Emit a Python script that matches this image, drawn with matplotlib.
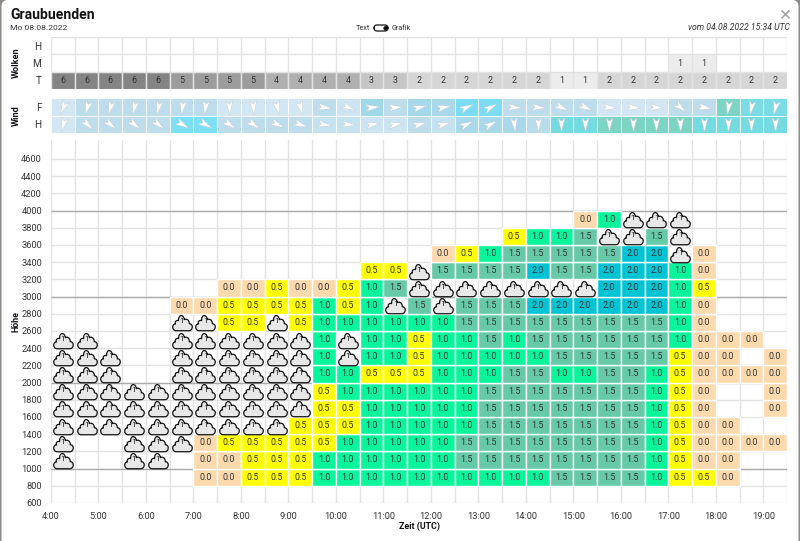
#!/usr/bin/env python3
"""Graubuenden soaring forecast panel: clouds, wind and thermals by height and time."""
import matplotlib

matplotlib.use("Agg")
import matplotlib.pyplot as plt  # noqa: E402
from matplotlib.markers import MarkerStyle  # noqa: E402
from matplotlib.patches import FancyBboxPatch  # noqa: E402
from matplotlib.path import Path  # noqa: E402
from matplotlib.transforms import Affine2D  # noqa: E402

plt.rcParams["font.family"] = ["Roboto", "DejaVu Sans"]

W, H = 800, 541
TEXT = "#333333"

# half-hour slots from 4:00 to 19:30
slots = [4 + i * 0.5 for i in range(31)]
hours = list(range(4, 20))
heights = list(range(600, 4800, 200))

cloud_mid = [0] * 26 + [1, 1, 0, 0, 0]
cloud_low = [6, 6, 6, 6, 6, 5, 5, 5, 5, 4, 4, 4, 4, 3, 3, 2, 2, 2, 2, 2, 2, 1, 1, 2, 2, 2, 2, 2, 2, 2, 2]
cloud_grey = {1: "#ececec", 2: "#d6d6d6", 3: "#c6c6c6", 4: "#b0b0b0", 5: "#9c9c9c", 6: "#848484"}

# wind: heading of the arrow in degrees and the cell colour
wind_dir_f = [205, 197, 197, 195, 195, 188, 188, 178, 175, 165, 165, 100, 115, 85, 85, 75,
              78, 65, 62, 95, 95, 115, 115, 95, 95, 95, 130, 100, 188, 190, 193]
wind_dir_h = [197, 135, 130, 130, 130, 120, 120, 125, 125, 115, 110, 100, 95, 80, 80, 75,
              75, 65, 62, 175, 178, 180, 180, 180, 180, 180, 178, 180, 180, 180, 180]
wind_col_f = ["#d3e6f4", "#bddded", "#bddded", "#bddded", "#bddded", "#bddded", "#bddded",
              "#d3e6f4", "#d3e6f4", "#d3e6f4", "#d3e6f4", "#bddded", "#cde4f2", "#a0d8ea",
              "#bddded", "#a4d8ea", "#a8d8ea", "#7cdcf4", "#7cdcf4", "#bddded", "#bddded",
              "#bddded", "#bddded", "#d3e6f4", "#d3e6f4", "#d3e6f4", "#bddded", "#bddded",
              "#7cd4c4", "#7cdce4", "#7cdce4"]
wind_col_h = ["#d3e6f4", "#bddded", "#bddded", "#bddded", "#bddded", "#7ce0f4", "#7ce0f4",
              "#bddded", "#bddded", "#bddded", "#bddded", "#c4e2f0", "#c4e2f0", "#cde4f2",
              "#cde4f2", "#bddded", "#c4e2f0", "#a8d8ea", "#a8d8ea", "#a8d8ea", "#b8dcec",
              "#74dce0", "#74dce0", "#7cd4c4", "#7cd4c4", "#7cd4c4", "#7cd4c4", "#74dce0",
              "#74dce0", "#74dce0", "#74dce0"]

# thermals per height band (lower edge in m), one char per slot:
# . empty, c cloud, 0 = 0.0, 5 = 0.5, 1 = 1.0, f = 1.5, 2 = 2.0
band_heights = [800, 1000, 1200, 1400, 1600, 1800, 2000, 2200, 2400, 2600, 2800, 3000, 3200, 3400, 3600, 3800]
bands = [
    "......00555" + "1111111111" + "ffff155" + "0..",
    "c..cc.00555" + "111111ffff" + "ffff1500..",
    "c..ccc055555" + "11111ffff" + "ffff150000",
    "cccccccccc555" + "11111fff" + "ffff1500..",
    "ccccccccccc55" + "11111fff" + "ffff150..0",
    "ccccccccccc5" + "111111fff" + "ffff150..0",
    "ccc..cccccc11555111ff" + "11ff150000",
    "ccc..cccccc1c1151111" + "1fffff500.0",
    "cc...cccccc1c1151" + "1f1ffffff1000.",
    ".....cc55c5111111ffff" + "fffff10...",
    ".....005555" + "151cfcfff2" + "2222210...",
    ".......005005" + "1fcccccccc22215...",
    ".............55c" + "ffff2ff222" + "10...",
    "................051ff" + "fff22c0...",
    "...................511fccfc....",
    "......................01ccc....",
]
band_values = {"0": 0.0, "5": 0.5, "1": 1.0, "f": 1.5, "2": 2.0}
band_colors = {0.0: "#fdd9ae", 0.5: "#ffff00", 1.0: "#08f59c", 1.5: "#66c9a8", 2.0: "#00c3d4"}

# flat-bottomed cloud glyph used as a marker
CLOUD = Path(
    [(-0.62, -0.8), (0.62, -0.8), (1.02, -0.8), (1.08, -0.12), (0.66, -0.12),
     (0.68, 0.32), (0.28, 0.38), (0.18, 0.28), (0.12, 0.82), (-0.42, 0.82), (-0.38, 0.18),
     (-0.62, 0.28), (-0.78, 0.05), (-0.68, -0.14), (-1.08, -0.15), (-1.02, -0.8), (-0.62, -0.8)],
    [Path.MOVETO, Path.LINETO, Path.CURVE4, Path.CURVE4, Path.CURVE4,
     Path.CURVE4, Path.CURVE4, Path.CURVE4, Path.CURVE4, Path.CURVE4, Path.CURVE4,
     Path.CURVE4, Path.CURVE4, Path.CURVE4, Path.CURVE4, Path.CURVE4, Path.CURVE4],
)
ARROW = Path([(0, 1), (0.48, -0.9), (0, -0.45), (-0.48, -0.9), (0, 1)], closed=True)


def px_axes(left, top, right, bottom):
    ax = fig.add_axes([left / W, 1 - bottom / H, (right - left) / W, (bottom - top) / H])
    ax.set_xlim(4, 19.5)
    ax.patch.set_alpha(0)
    for s in ax.spines.values():
        s.set_visible(False)
    ax.tick_params(length=0, labelsize=6.7, labelcolor=TEXT, which="both")
    ax.set_axisbelow(True)
    return ax


def label(x, y, s, **kw):
    kw.setdefault("color", TEXT)
    kw.setdefault("va", "center")
    fig.text(x / W, 1 - y / H, s, **kw)


fig = plt.figure(figsize=(W / 100, H / 100), dpi=100, facecolor="#8f8c88")
fig.patches.append(FancyBboxPatch((1.5 / W, -0.02), 797 / W, 1.02, boxstyle="round,pad=0,rounding_size=0.008",
                                  transform=fig.transFigure, fc="white", ec="none", mutation_aspect=W / H,
                                  zorder=-1))

label(10, 15, "Graubuenden", fontsize=10.1, fontweight="bold", color="#111111")
label(10, 28, "Mo 08.08.2022", fontsize=6.1)
label(370, 28, "Text", fontsize=5.2, ha="right")
label(392, 28, "Grafik", fontsize=5.2)
label(790, 28, "vom 04.08.2022 15:34 UTC", fontsize=6.2, ha="right", style="italic")
label(785, 16, "×", fontsize=15, ha="center", color="#a8a8a8")
fig.patches.append(FancyBboxPatch((374 / W, 1 - 31 / H), 14 / W, 6 / H, boxstyle="round,pad=0,rounding_size=0.004",
                                  transform=fig.transFigure, fc="white", ec="#111111", lw=0.9,
                                  mutation_aspect=W / H))
label(385.5, 27.7, "●", fontsize=4.5, ha="center", color="#111111")

label(16, 63, "Wolken", fontsize=6.6, fontweight="bold", rotation=90, ha="center", color="#111111")
label(16, 116, "Wind", fontsize=6.6, fontweight="bold", rotation=90, ha="center", color="#111111")
label(16, 322, "Höhe", fontsize=6.4, fontweight="bold", rotation=90, ha="center", color="#111111")
label(419, 526, "Zeit (UTC)", fontsize=6.4, fontweight="bold", ha="center", color="#111111")

# clouds panel
ax = px_axes(51, 37, 787, 89)
ax.set_ylim(0, 3)
ax.set_xticks(slots)
ax.set_xticklabels([])
ax.set_yticks([0.5, 1.5, 2.5], ["T", "M", "H"], fontsize=7.2)
ax.tick_params(axis="y", pad=7)
ax.vlines(slots + [19.5], 0, 3, color="#e2e2e2", lw=1)
ax.hlines([1, 2, 3], 4, 19.5, color="#e2e2e2", lw=1)
for row, vals in [(0, cloud_low), (1, cloud_mid)]:
    for x, v in zip(slots, vals):
        if v:
            ax.bar(x, 1, 0.5, row, align="edge", color=cloud_grey[v], edgecolor="white", linewidth=0.8)
            ax.text(x + 0.25, row + 0.5, str(v), ha="center", va="center", fontsize=6.4, color=TEXT)

# wind panel
ax = px_axes(51, 98, 787, 133)
ax.set_ylim(0, 2)
ax.set_xticks([])
ax.set_yticks([0.5, 1.5], ["H", "F"], fontsize=7.2)
ax.tick_params(axis="y", pad=7)
for row, dirs, cols in [(0, wind_dir_h, wind_col_h), (1, wind_dir_f, wind_col_f)]:
    ax.bar(slots, 1, 0.5, row, align="edge", color=cols, edgecolor="white", linewidth=0.6)
    for x, d in zip(slots, dirs):
        m = MarkerStyle(ARROW, transform=Affine2D().rotate_deg(-d))
        ax.plot(x + 0.25, row + 0.5, marker=m, ms=10.5, mfc="white", mec="#c4cace", mew=0.3, ls="none")

# thermals panel
ax = px_axes(51, 140, 787, 503)
ax.set_ylim(600, 4820)
ax.set_xticks(hours, [f"{h}:00" for h in hours])
ax.set_xticks(slots + [19.5], minor=True)
ax.set_yticks(heights)
ax.tick_params(axis="y", pad=6.5)
ax.tick_params(axis="x", pad=6.5)
ax.grid(True, which="both", color="#e2e2e2", lw=1)
ax.hlines([1000, 2000, 3000, 4000], 4, 19.5, color="#ababab", lw=1, zorder=1)
cloud_x, cloud_y = [], []
for base, band in zip(band_heights, bands):
    for x, ch in zip(slots, band):
        if ch == "c":
            cloud_x.append(x + 0.25)
            cloud_y.append(base + 100)
        elif ch != ".":
            v = band_values[ch]
            ax.bar(x, 200, 0.5, base, align="edge", color=band_colors[v], edgecolor="white", linewidth=1, zorder=2)
            ax.text(x + 0.25, base + 100, f"{v:.1f}", ha="center", va="center", fontsize=6.4, color=TEXT, zorder=3)
ax.plot(cloud_x, cloud_y, ls="none", marker=MarkerStyle(CLOUD), ms=16, mfc="#e8e8e8", mec="#111111", mew=0.9, zorder=3)
for x, y in zip(cloud_x, cloud_y):
    ax.text(x, y + 10, "1", ha="center", va="center", fontsize=6, color="#222222", zorder=4)

assert all(len(b) == len(slots) for b in bands)
fig.savefig("out.png", dpi=100, facecolor=fig.get_facecolor())
